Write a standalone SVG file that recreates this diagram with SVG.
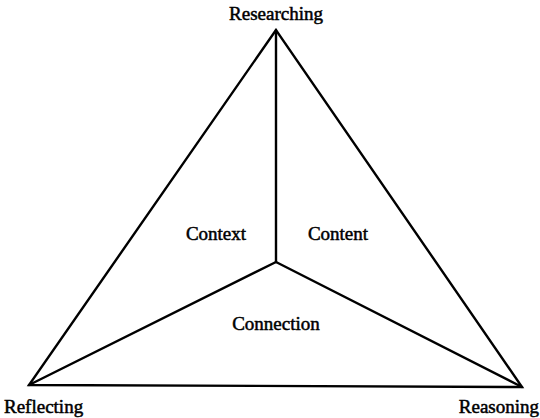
<svg xmlns="http://www.w3.org/2000/svg" width="540" height="418" viewBox="0 0 540 418">
<style>
.l{stroke:#000;stroke-width:2.4;fill:none;stroke-linecap:round;stroke-linejoin:miter}
text{font-family:"Liberation Serif","Times New Roman",serif;font-size:19px;fill:#000;stroke:#000;stroke-width:0.5}
</style>
<rect width="540" height="418" fill="#fff"/>
<g id="connectors">
<path class="l" d="M276,30 L29,385 L522,387 Z"/>
<path class="l" d="M276,30 L276,262"/>
<path class="l" d="M276,262 L29,385"/>
<path class="l" d="M276,262 L522,387"/>
</g>
<g id="researching"><text x="276" y="20" text-anchor="middle">Researching</text></g>
<g id="reflecting"><text x="4" y="413">Reflecting</text></g>
<g id="reasoning"><text x="539" y="413" text-anchor="end">Reasoning</text></g>
<g id="context"><text x="216" y="240" text-anchor="middle">Context</text></g>
<g id="content"><text x="338" y="240" text-anchor="middle">Content</text></g>
<g id="connection"><text x="276" y="330" text-anchor="middle">Connection</text></g>
</svg>
